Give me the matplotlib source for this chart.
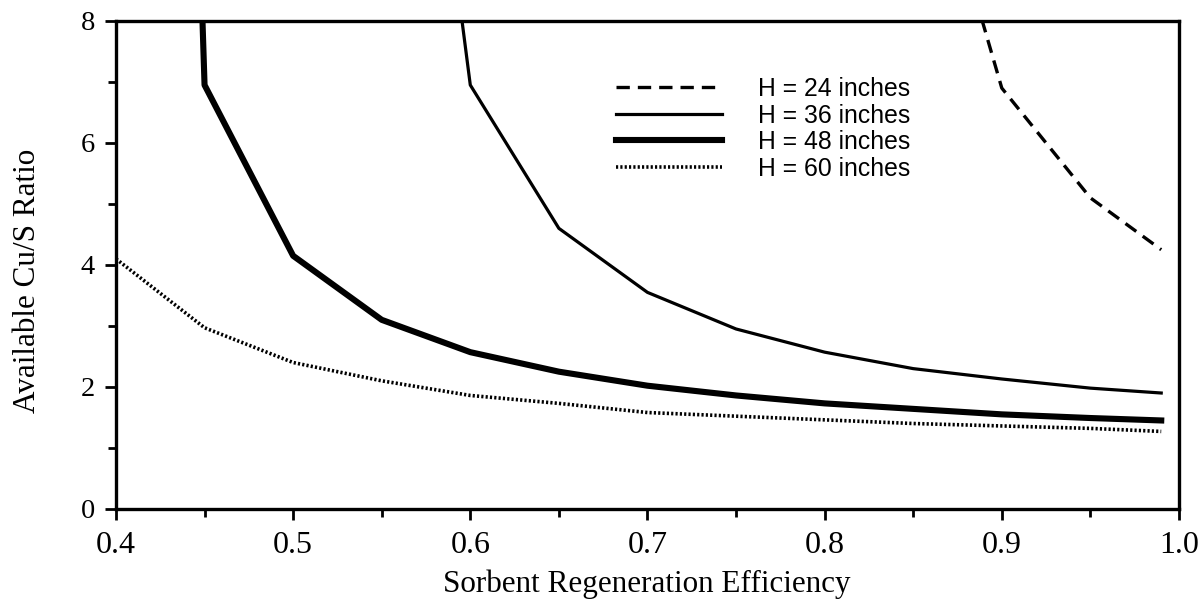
import matplotlib.pyplot as plt
from matplotlib.ticker import MultipleLocator

# regeneration efficiency vs available Cu/S ratio, one curve per bed height
x_24 = [0.885, 0.90, 0.95, 0.99]
y_24 = [8.4, 6.9, 5.1, 4.25]

x_36 = [0.594, 0.60, 0.65, 0.70, 0.75, 0.80, 0.85, 0.90, 0.95, 0.99]
y_36 = [8.3, 6.95, 4.6, 3.55, 2.95, 2.57, 2.3, 2.13, 1.98, 1.9]

x_48 = [0.4485, 0.45, 0.50, 0.55, 0.60, 0.65, 0.70, 0.75, 0.80, 0.85, 0.90, 0.95, 0.99]
y_48 = [8.3, 6.95, 4.15, 3.1, 2.57, 2.25, 2.02, 1.86, 1.73, 1.64, 1.55, 1.49, 1.45]

x_60 = [0.40, 0.45, 0.50, 0.55, 0.60, 0.65, 0.70, 0.75, 0.80, 0.85, 0.90, 0.95, 0.99]
y_60 = [4.1, 2.97, 2.4, 2.1, 1.86, 1.73, 1.58, 1.52, 1.46, 1.4, 1.36, 1.32, 1.27]

labels = ["H = 24 inches", "H = 36 inches", "H = 48 inches", "H = 60 inches"]

serif = "Liberation Serif"

fig = plt.figure(figsize=(12.03, 6.08), dpi=100)
ax = fig.add_axes([0.0964, 0.163, 0.8836, 0.8025])

ax.plot(x_24, y_24, color="black", lw=2.4, ls=(0, (4, 2.4)), label=labels[0])
ax.plot(x_36, y_36, color="black", lw=2.3, label=labels[1])
ax.plot(x_48, y_48, color="black", lw=4.4, label=labels[2])
ax.plot(x_60, y_60, color="black", lw=2.6, ls=(0, (0.6, 0.6)), label=labels[3])

ax.set_xlim(0.4, 1.0)
ax.set_ylim(0, 8)
ax.xaxis.set_major_locator(MultipleLocator(0.1))
ax.xaxis.set_minor_locator(MultipleLocator(0.05))
ax.yaxis.set_major_locator(MultipleLocator(2))
ax.yaxis.set_minor_locator(MultipleLocator(1))
ax.set_xticklabels([f"{v:.1f}" for v in ax.get_xticks()])

for s in ax.spines.values():
    s.set_linewidth(2.4)
ax.tick_params(which="major", direction="out", width=2, length=8, top=False, right=False)
ax.tick_params(which="minor", direction="out", width=2, length=5.5, top=False, right=False)
ax.tick_params(axis="x", labelsize=23, pad=8)
ax.tick_params(axis="y", labelsize=20.5, pad=7)
for t in ax.get_xticklabels() + ax.get_yticklabels():
    t.set_fontfamily(serif)

ax.set_xlabel("Sorbent Regeneration Efficiency", fontsize=22.4, fontfamily=serif)
ax.set_ylabel("Available Cu/S Ratio", fontsize=22.4, fontfamily=serif)
ax.xaxis.set_label_coords(0.499, -0.125)
ax.yaxis.set_label_coords(-0.0696, 0.467)

leg = ax.legend(loc="upper left", bbox_to_anchor=(0.470, 0.885), frameon=False,
                borderpad=0, borderaxespad=0,
                prop={"family": "Liberation Sans", "size": 17.8},
                handlelength=4.3, handletextpad=1.45, labelspacing=0.1)

fig.savefig("out.png", dpi=100)
